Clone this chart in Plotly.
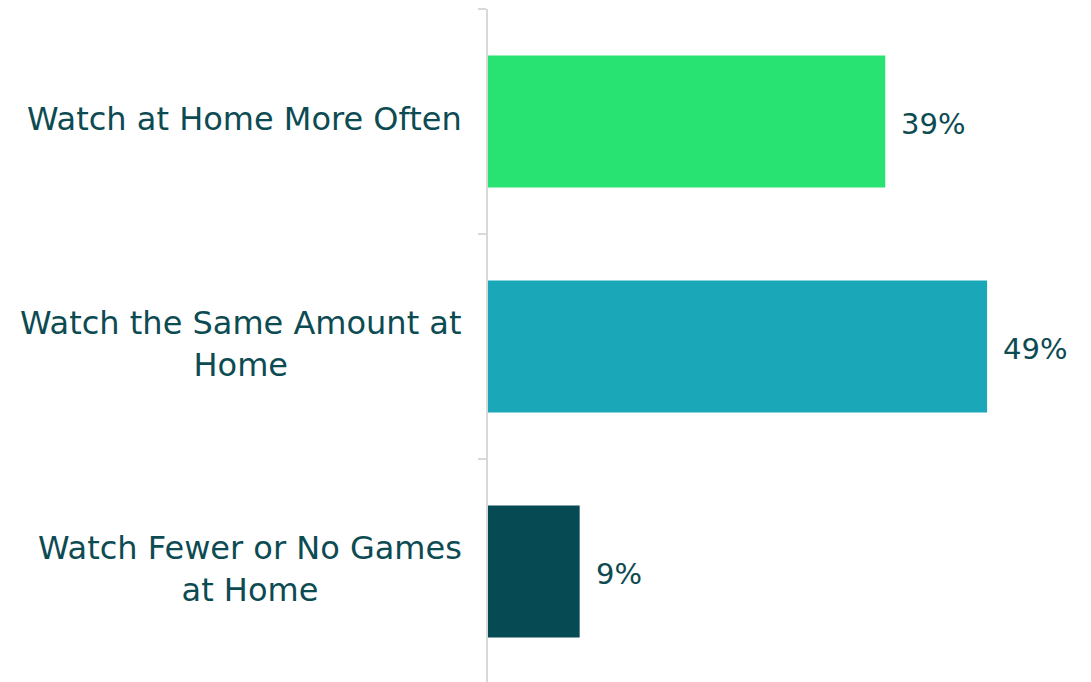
import plotly.graph_objects as go

# Survey responses: how viewing at home will change
categories = [
    "Watch at Home More Often",
    "Watch the Same Amount at<br>Home",
    "Watch Fewer or No Games<br>at Home",
]
shares = [39, 49, 9]
value_labels = ["39%", "49%", "9%"]
bar_colors = ["#28E371", "#1AA7B8", "#064B53"]

text_color = "#0D4B53"
font_family = "DejaVu Sans"

fig = go.Figure(
    go.Bar(
        x=shares,
        y=list(range(len(categories))),
        orientation="h",
        marker=dict(color=bar_colors, line=dict(width=0)),
        hoverinfo="skip",
    )
)

# Value labels to the right of each bar
for i, (v, lab) in enumerate(zip(shares, value_labels)):
    fig.add_annotation(
        x=v, y=i, xref="x", yref="y",
        text=lab, showarrow=False,
        xanchor="left", yanchor="middle",
        xshift=14, yshift=-2,
        font=dict(family=font_family, size=29, color=text_color),
    )

# Category labels, centred line by line, right of block near the axis
for i, cat in enumerate(categories):
    fig.add_annotation(
        x=0, y=i, xref="paper", yref="y",
        text=cat, showarrow=False,
        xanchor="right", yanchor="middle", align="center",
        xshift=-24, yshift=3,
        font=dict(family=font_family, size=32, color=text_color),
    )

fig.update_layout(
    width=1091,
    height=682,
    margin=dict(l=488, r=0, t=9, b=0),
    paper_bgcolor="white",
    plot_bgcolor="white",
    bargap=0.413,
    showlegend=False,
    font=dict(family=font_family, color=text_color),
)

fig.update_xaxes(
    range=[0, 59.2],
    visible=False,
    showgrid=False,
    zeroline=False,
)

fig.update_yaxes(
    type="linear",
    range=[2.491, -0.5],
    tickmode="array",
    tickvals=[-0.5, 0.5, 1.5, 2.5],
    showticklabels=False,
    ticks="outside",
    ticklen=8,
    tickwidth=2,
    tickcolor="#D9D9D9",
    showline=True,
    linecolor="#D9D9D9",
    linewidth=2,
    showgrid=False,
    zeroline=False,
)

fig.write_html("out.html")
